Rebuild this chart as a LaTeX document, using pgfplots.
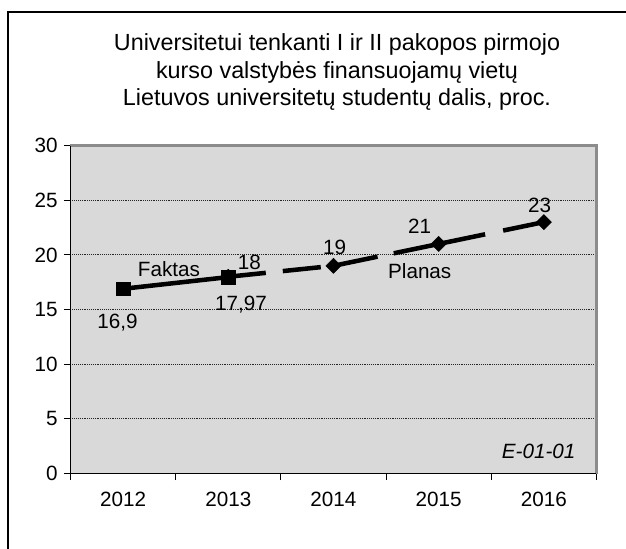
\documentclass[border=0pt]{standalone}
\usepackage{fontspec}
\setmainfont{Liberation Sans}
\usepackage{pgfplots}
\pgfplotsset{compat=1.18}
\definecolor{plotbg}{HTML}{D9D9D9}
\definecolor{frameg}{HTML}{8C8C8C}
\newcommand{\lbl}{\fontsize{15.5}{18}\selectfont}
\begin{document}
\begin{tikzpicture}[x=0.75pt,y=0.75pt]
\draw[line width=1.5pt] (8,0) -- (8,537) -- (626,537);
\begin{scope}[every node/.style={font=\fontsize{17.5}{21}\selectfont, anchor=base}]
\node at (337,498.3) {Universitetui tenkanti I ir II pakopos pirmojo};
\node at (337,470.5) {kurso valstybės finansuojamų vietų};
\node at (337,443) {Lietuvos universitetų studentų dalis, proc.};
\end{scope}
\begin{axis}[
  at={(67,69)}, anchor=south west,
  scale only axis, width=394.5pt, height=246pt,
  xmin=-0.5, xmax=4.5, ymin=0, ymax=30,
  ytick={0,5,10,15,20,25,30},
  xtick={-0.5,0.5,1.5,2.5,3.5,4.5},
  x tick label as interval,
  xticklabels={2012,2013,2014,2015,2016},
  axis background/.style={fill=plotbg},
  axis line style={draw=none},
  ymajorgrids,
  major grid style={densely dotted, black!85, line width=0.6pt},
  tick align=outside,
  major tick length=5pt,
  tick style={black, line width=0.8pt},
  xtick pos=bottom, ytick pos=left,
  ticklabel style={font=\lbl},
  xticklabel style={yshift=-5.5pt},
  yticklabel style={xshift=-1.2pt},
  /pgf/number format/assume math mode=true,
  clip=false,
]
\addplot[black, line width=3.4pt, dash pattern=on 28.3pt off 12.8pt on 28.65pt off 9.6pt on 33.75pt off 12.4pt on 70pt off 13.8pt on 40pt off 20pt,
  mark=square*, mark size=4pt, mark options={solid, rotate=45, line width=0.4pt}]
  coordinates {(1,18) (2,19) (3,21) (4,23)};
\addplot[black, line width=3.4pt, mark=square*, mark size=5.2pt, mark options={solid, line width=0.4pt}]
  coordinates {(0,16.9) (1,17.97)};
\draw[frameg, line width=1.8pt] (rel axis cs:0,1) -- (rel axis cs:1,1) -- (rel axis cs:1,0);
\draw[black, line width=1pt] (rel axis cs:0,1) -- (rel axis cs:0,0) -- (rel axis cs:1,0);
\begin{scope}[every node/.style={font=\lbl}]
\node at (axis cs:-0.053,13.81) {16,9};
\node at (axis cs:1.121,15.41) {17,97};
\node at (axis cs:1.20,19.30) {18};
\node at (axis cs:0.436,18.70) {Faktas};
\node at (axis cs:2.01,20.67) {19};
\node at (axis cs:2.82,22.59) {21};
\node at (axis cs:2.82,18.52) {Planas};
\node at (axis cs:3.96,24.51) {23};
\node at (axis cs:3.95,2.01) {\itshape E-01-01};
\end{scope}
\end{axis}
\pgfresetboundingbox
\path[use as bounding box] (0,0) rectangle (626,549);
\end{tikzpicture}
\end{document}
